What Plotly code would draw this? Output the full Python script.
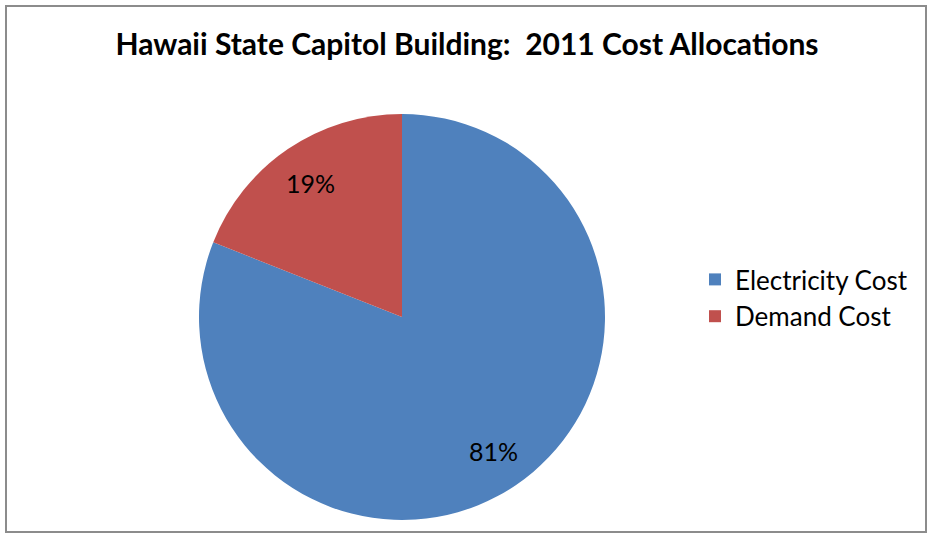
import math
import plotly.graph_objects as go

labels = ["Electricity Cost", "Demand Cost"]
values = [81, 19]
colors = ["#4F81BD", "#C0504D"]
title_text = "Hawaii State Capitol Building:  2011 Cost Allocations"

W, H = 928, 534
CX, CY, R = 402, 317, 203
fig = go.Figure(go.Pie(
    labels=labels, values=values, sort=False, direction="clockwise", rotation=0,
    marker=dict(colors=colors, line=dict(width=0)),
    textinfo="none",
    domain=dict(x=[(CX - R)/W, (CX + R)/W], y=[1-(CY + R)/H, 1-(CY - R)/H]),
    hoverinfo="label+percent",
))

# percentage labels placed at 0.8 radius along each slice's mid-angle (clockwise from 12 o'clock)
total = sum(values)
annotations = []
cum = 0
for v in values:
    mid = (cum + v / 2) / total * 2 * math.pi
    cum += v
    px = CX + 0.8 * R * math.sin(mid)
    py = CY - 0.8 * R * math.cos(mid)
    annotations.append(dict(x=px / W, y=1 - py / H, xref="paper", yref="paper",
                            text="%d%%" % round(v / total * 100), showarrow=False,
                            font=dict(family="Lato", size=25, color="black"),
                            xanchor="center", yanchor="middle"))

fig.update_layout(
    width=W, height=H, margin=dict(l=0, r=0, t=0, b=0),
    paper_bgcolor="white", plot_bgcolor="white",
    title=dict(text="<b>%s</b>" % title_text, x=467/W, xanchor="center", y=1-44/H, yanchor="middle",
               font=dict(family="Lato", size=30, color="black")),
    legend=dict(x=695/W, y=1-298/H, xanchor="left", yanchor="middle",
                font=dict(family="Lato", size=26, color="black"), itemwidth=30,
                tracegroupgap=0),
    annotations=annotations,
    shapes=[dict(type="rect", xref="paper", yref="paper", x0=6/W, x1=926/W, y0=1-532/H, y1=1-6/H,
                 line=dict(color="#8C8C8C", width=2))],
)
fig.write_html("out.html")
